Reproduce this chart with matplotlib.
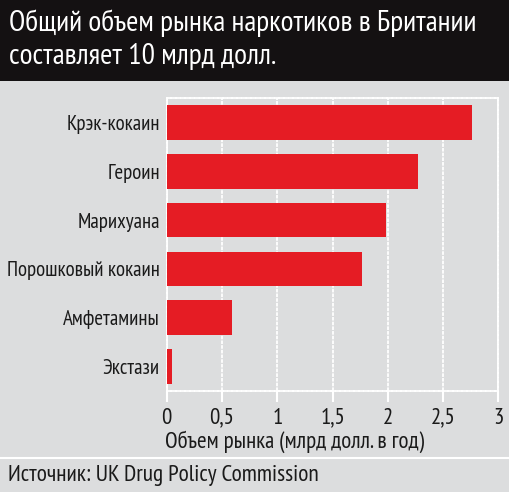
import matplotlib
matplotlib.use("Agg")
import matplotlib.pyplot as plt

# Данные
drugs = ["Крэк-кокаин", "Героин", "Марихуана", "Порошковый кокаин", "Амфетамины", "Экстази"]
values = [2.76, 2.27, 1.98, 1.77, 0.59, 0.05]
xticks = [0, 0.5, 1, 1.5, 2, 2.5, 3]
xticklabels = ["0", "0,5", "1", "1,5", "2", "2,5", "3"]

title = "Общий объем рынка наркотиков в Британии\nсоставляет 10 млрд долл."
xlabel = "Объем рынка (млрд долл. в год)"
source = "Источник: UK Drug Policy Commission"

plt.rcParams['font.family'] = ['PT Sans Narrow', 'DejaVu Sans']

bg = "#dcddde"
red = "#e51c24"
ink = "#1a1a1a"

fig = plt.figure(figsize=(5.09, 4.92), dpi=100)
fig.patch.set_facecolor(bg)

# черная плашка заголовка
fig.patches.append(plt.Rectangle((0, 1 - 81 / 492), 1, 81 / 492, transform=fig.transFigure,
                                 facecolor="#141112", edgecolor="none", zorder=0))
lines = title.split("\n")
fig.text(9 / 509, 1 - 23 / 492, lines[0], color="white", fontsize=21.3, va="center", ha="left")
fig.text(9 / 509, 1 - 56 / 492, lines[1], color="white", fontsize=21.3, va="center", ha="left")

ax = fig.add_axes([166.7 / 509, 101 / 492, 331.8 / 509, 293 / 492])
ax.set_facecolor(bg)
ypos = list(range(len(drugs)))
ax.barh(ypos, values, height=0.71, color=red, zorder=3)
ax.set_xlim(0, 3)
ax.set_ylim(len(drugs) - 0.5, -0.5)
ax.set_yticks(ypos)
ax.set_yticklabels(drugs, fontsize=15, color=ink)
ax.tick_params(axis="y", length=0, pad=5)
ax.set_xticks(xticks)
ax.set_xticklabels(xticklabels, fontsize=16.5, color=ink)
ax.tick_params(axis="x", length=8, width=1.5, color="white", pad=4)
ax.grid(axis="x", color="white", linewidth=1.3, linestyle=(0, (2, 0.6)), zorder=1)
for s in ax.spines.values():
    s.set_color("white")
    s.set_linewidth(1.3)
    s.set_linestyle((0, (2, 0.6)))
ax.set_xlabel(xlabel, fontsize=16.6, color=ink, ha="left")
ax.xaxis.set_label_coords(-0.005, -0.135)

# линия и источник внизу
fig.add_artist(plt.Line2D([0, 1], [1 - 458 / 492] * 2, transform=fig.transFigure,
                          color="white", linewidth=1.5))
fig.text(8 / 509, 1 - 476 / 492, source, fontsize=16.8, color=ink, va="center", ha="left")

fig.savefig("out.png", dpi=100, facecolor=bg)
